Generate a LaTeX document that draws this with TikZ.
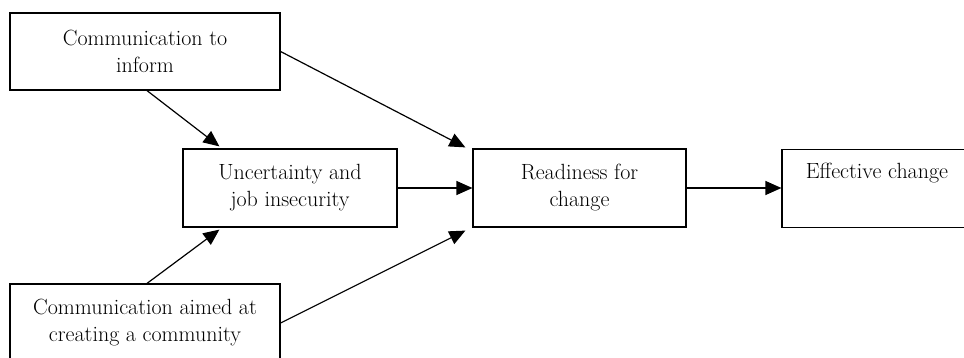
\documentclass[tikz,border=0pt]{standalone}
\usepackage{fontspec}
\usepackage{tikz}
\usetikzlibrary{arrows.meta}
\usetikzlibrary{calc}

\tikzset{
  box/.style={draw,rectangle,line width=1.2pt,align=center,inner sep=0pt,
    font=\fontsize{22}{27}\selectfont},
  arr/.style={line width=1.2pt,-{Triangle[length=16pt,width=14pt]}}
}

\begin{document}
\begin{tikzpicture}[x=1pt,y=-1pt]
  \useasboundingbox (0,0) rectangle (964,358);
  % boxes
  \node[box,minimum width=270pt,minimum height=77pt] (inform) at (145,51.5) {Communication to\\inform};
  \node[box,minimum width=214pt,minimum height=78pt] (uncert) at (290,188) {Uncertainty and\\job insecurity};
  \node[box,minimum width=270pt,minimum height=78pt] (commun) at (145,323) {Communication aimed at\\creating a community};
  \node[box,minimum width=213pt,minimum height=78pt] (ready) at (579.5,188) {Readiness for\\change};
  \node[box,minimum width=190pt,text height=29pt,text depth=49pt,anchor=north] (effect) at (877,149) {Effective change};
  % ends of the connectors
  \coordinate (inform-s) at ($(inform.south)+(2,0)$);
  \coordinate (commun-n) at ($(commun.north)+(2,0)$);
  \coordinate (uncert-nw) at ($(uncert.north west)+(37,-2)$);
  \coordinate (uncert-sw) at ($(uncert.south west)+(37,2)$);
  \coordinate (ready-nw) at ($(ready.north west)+(-7,-1)$);
  \coordinate (ready-sw) at ($(ready.south west)+(-7,3)$);
  \coordinate (effect-w) at (ready.east -| effect.west);
  \foreach \a/\b in {inform-s/uncert-nw, commun-n/uncert-sw,
                     inform.east/ready-nw, commun.east/ready-sw,
                     uncert.east/ready.west, ready.east/effect-w}{%
    \draw[arr] (\a) -- (\b);
  }
\end{tikzpicture}
\end{document}
